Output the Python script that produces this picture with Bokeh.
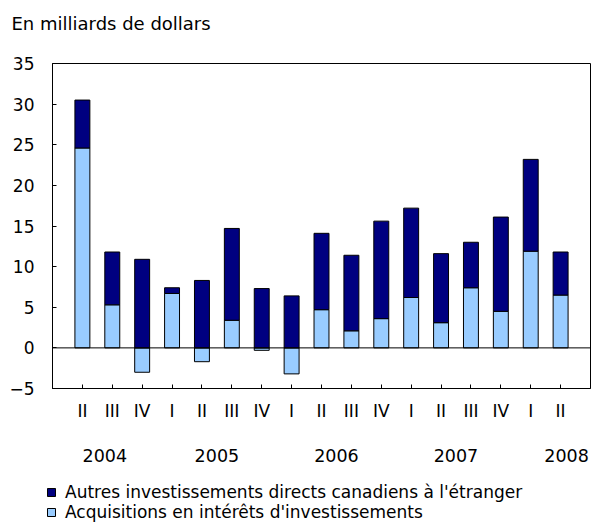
from bokeh.plotting import figure
from bokeh.layouts import column
from bokeh.models import (Range1d, LinearAxis, FixedTicker, Span, Legend, LegendItem,
                          Label, ColumnDataSource)
from bokeh.embed import file_html
from bokeh.resources import INLINE

# ---- data ----
quarters = ["II", "III", "IV", "I", "II", "III", "IV", "I", "II", "III", "IV",
            "I", "II", "III", "IV", "I", "II"]
years = ["2004", "2005", "2006", "2007", "2008"]
autres = [5.9, 6.5, 10.9, 0.7, 8.3, 11.3, 7.3, 6.4, 9.4, 9.3, 12.0,
          11.0, 8.5, 5.6, 11.6, 11.3, 5.3]
acquisitions = [24.6, 5.3, -3.0, 6.7, -1.7, 3.4, -0.3, -3.2, 4.7, 2.1, 3.6,
                6.2, 3.1, 7.4, 4.5, 11.9, 6.5]
y_ticks = [-5, 0, 5, 10, 15, 20, 25, 30, 35]
label_autres = "Autres investissements directs canadiens à l'étranger"
label_acq = "Acquisitions en intérêts d'investissements"
title_text = "En milliards de dollars"

FONT = "DejaVu Sans"
DARK = "#000080"
LIGHT = "#99CCFF"
W = 591


def strip(height):
    f = figure(width=W, height=height, x_range=Range1d(0, 1), y_range=Range1d(0, 1),
               output_backend="svg", toolbar_location=None,
               x_axis_location=None, y_axis_location=None,
               min_border_left=0, min_border_right=0, min_border_top=0,
               min_border_bottom=0)
    try:
        f.frame_align = False
    except Exception:
        pass
    f.xgrid.visible = False
    f.ygrid.visible = False
    f.outline_line_color = None
    f.background_fill_color = "white"
    f.border_fill_color = "white"
    return f


x = list(range(len(quarters)))
acq_bottom = [0.0] * len(x)
acq_top = acquisitions
aut_bottom = [max(a, 0.0) for a in acquisitions]
aut_top = [b + v for b, v in zip(aut_bottom, autres)]

src = ColumnDataSource(dict(x=x, acq_bottom=acq_bottom, acq_top=acq_top,
                            aut_bottom=aut_bottom, aut_top=aut_top))

# ---- title strip ----
tf = strip(36)
tf.add_layout(Label(x=11, y=13, x_units="screen", y_units="screen", text=title_text,
                    text_font=FONT, text_font_size="18px", text_color="black",
                    text_baseline="alphabetic", text_align="left"))

# ---- main chart ----
p = figure(width=W, height=434, x_range=Range1d(-1, len(x)),
           y_range=Range1d(y_ticks[0], y_ticks[-1]),
           output_backend="svg", toolbar_location=None,
           min_border_left=52, min_border_right=1, min_border_top=27,
           min_border_bottom=82)

p.xgrid.visible = False
p.ygrid.visible = False
p.outline_line_color = "black"
p.outline_line_width = 1
p.background_fill_color = "white"
p.border_fill_color = "white"

r_acq = p.vbar(x="x", bottom="acq_bottom", top="acq_top", width=0.5, source=src,
               fill_color=LIGHT, line_color="black", line_width=1)
r_aut = p.vbar(x="x", bottom="aut_bottom", top="aut_top", width=0.5, source=src,
               fill_color=DARK, line_color="black", line_width=1)

p.add_layout(Span(location=0, dimension="width", line_color="black", line_width=1))

# y axis
ya = p.yaxis[0]
ya.ticker = FixedTicker(ticks=y_ticks)
ya.major_tick_in = 4
ya.major_tick_out = 0
ya.minor_tick_line_color = None
ya.axis_line_color = "black"
ya.major_label_standoff = 18
ya.major_label_text_font = FONT
ya.major_label_text_font_size = "17px"
ya.major_label_text_color = "black"

# quarter axis
xa = p.xaxis[0]
xa.ticker = FixedTicker(ticks=x)
xa.major_label_overrides = {i: q for i, q in zip(x, quarters)}
xa.major_tick_in = 4
xa.major_tick_out = 0
xa.minor_tick_line_color = None
xa.axis_line_color = "black"
xa.major_label_standoff = 12
xa.major_label_text_font = FONT
xa.major_label_text_font_size = "17px"
xa.major_label_text_color = "black"

# year axis
year_pos = [0.75, 4.5, 8.5, 12.5, 16.2]
yr = LinearAxis(ticker=FixedTicker(ticks=year_pos),
                major_label_overrides={pos: y for pos, y in zip(year_pos, years)},
                axis_line_color=None, major_tick_line_color=None,
                minor_tick_line_color=None, major_label_standoff=19,
                major_label_text_font=FONT, major_label_text_font_size="17.5px",
                major_label_text_color="black")
p.add_layout(yr, "below")

# ---- legend strip ----
lg = strip(55)
# legend proxies (kept outside the visible range of this strip)
lg_aut = lg.vbar(x=[-10], top=[0], width=0.5, fill_color=DARK, line_color="black",
                 line_width=1)
lg_acq = lg.vbar(x=[-10], top=[0], width=0.5, fill_color=LIGHT, line_color="black",
                 line_width=1)
common = dict(glyph_width=10, glyph_height=10, label_text_font=FONT,
              label_text_font_size="17px", label_text_color="black",
              label_standoff=9, label_height=18, spacing=0, padding=0, margin=0,
              border_line_color=None, background_fill_alpha=0)
lg.add_layout(Legend(items=[LegendItem(label=label_autres, renderers=[lg_aut])],
                     location=(46, 23), **common), "center")
lg.add_layout(Legend(items=[LegendItem(label=label_acq, renderers=[lg_acq])],
                     location=(46, 3), **common), "center")

layout = column(tf, p, lg, spacing=0)
open("out.html", "w").write(file_html(layout, INLINE))
